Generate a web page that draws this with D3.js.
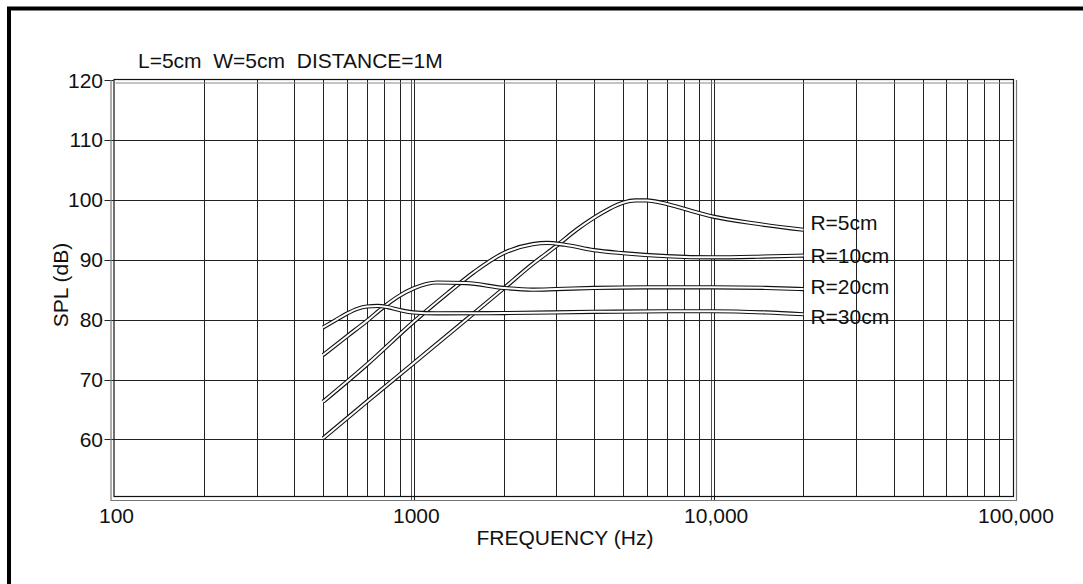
<!DOCTYPE html>
<html>
<head>
<meta charset="utf-8">
<script src="https://cdn.jsdelivr.net/npm/d3@7"></script>
<style>
  html, body { margin: 0; padding: 0; background: #fff; }
  svg { display: block; }
  text { font-family: "Liberation Sans", Arial, sans-serif; fill: #111; white-space: pre; }
</style>
</head>
<body>
<svg id="chart" width="1083" height="584"></svg>
<script>
// ---- data ----
const title = "L=5cm  W=5cm  DISTANCE=1M";
const xTickValues = [100, 1000, 10000, 100000];
const xTickLabels = ["100", "1000", "10,000", "100,000"];
const yTickValues = [60, 70, 80, 90, 100, 110, 120];
const seriesNames = ["R=5cm", "R=10cm", "R=20cm", "R=30cm"];
const labelDb = [95.0, 89.5, 84.3, 79.3];

const freqR5  = [500, 700, 1000, 1500, 2000, 2500, 3000, 3500, 4000, 4500, 5000, 5500, 6000, 7000, 8000, 10000, 14000, 20000];
const splR5   = [60.2, 66.3, 72.7, 80.0, 85.2, 89.3, 92.3, 95.0, 97.0, 98.5, 99.5, 99.9, 99.9, 99.3, 98.5, 97.2, 96.0, 95.0];
const freqR10 = [500, 700, 1000, 1300, 1600, 2000, 2500, 2800, 3200, 4000, 5000, 7000, 10000, 14000, 20000];
const splR10  = [66.3, 72.5, 79.6, 84.4, 88.0, 91.1, 92.6, 92.8, 92.5, 91.6, 91.1, 90.6, 90.4, 90.5, 90.7];
const freqR20 = [500, 600, 700, 800, 900, 1000, 1200, 1500, 2000, 2500, 3000, 4000, 6000, 10000, 15000, 20000];
const splR20  = [74.1, 77.2, 79.8, 82.2, 84.0, 85.2, 86.2, 86.1, 85.3, 85.0, 85.1, 85.3, 85.4, 85.4, 85.3, 85.1];
const freqR30 = [500, 550, 600, 650, 700, 760, 820, 900, 1000, 1200, 2000, 4000, 7000, 10000, 15000, 20000];
const splR30  = [78.7, 79.9, 81.0, 81.8, 82.2, 82.3, 82.1, 81.6, 81.2, 81.05, 81.1, 81.3, 81.4, 81.4, 81.2, 80.9];

const seriesFreq = [freqR5, freqR10, freqR20, freqR30];
const seriesSpl  = [splR5, splR10, splR20, splR30];

// ---- layout ----
const svg = d3.select("#chart");
const x = d3.scaleLog().domain([100, 100000]).range([113.5, 1013]);
const y = d3.scaleLinear().domain([50.4, 120]).range([497, 80]);
const x0 = x.range()[0], x1 = x.range()[1];
const yb = y.range()[0], yt = y.range()[1];
const FS = 21;

// outer frame
svg.append("rect").attr("x", 9).attr("y", 8.5).attr("width", 1200).attr("height", 700)
  .attr("fill", "none").attr("stroke", "#000").attr("stroke-width", 4);

// gridlines - vertical minor
const minorF = [];
[100, 1000, 10000].forEach(d => { for (let m = 2; m <= 9; m++) minorF.push(d * m); });
svg.append("g").selectAll("line").data(minorF).join("line")
  .attr("x1", d => Math.round(x(d)) + 0.5).attr("x2", d => Math.round(x(d)) + 0.5)
  .attr("y1", yt).attr("y2", yb)
  .attr("stroke", "#222").attr("stroke-width", 1);

// decade lines (double)
const decades = [1000, 10000];
const dg = svg.append("g");
decades.forEach(d => {
  const xv = Math.round(x(d));
  dg.append("line").attr("x1", xv - 1.5).attr("x2", xv - 1.5).attr("y1", yt).attr("y2", yb + 3)
    .attr("stroke", "#555").attr("stroke-width", 1);
  dg.append("line").attr("x1", xv + 1.5).attr("x2", xv + 1.5).attr("y1", yt).attr("y2", yb + 3)
    .attr("stroke", "#222").attr("stroke-width", 1);
});

// horizontal gridlines
svg.append("g").selectAll("line").data(yTickValues.filter(v => v < 120)).join("line")
  .attr("x1", x0).attr("x2", x1)
  .attr("y1", d => Math.round(y(d)) + 0.5).attr("y2", d => Math.round(y(d)) + 0.5)
  .attr("stroke", "#222").attr("stroke-width", 1);

// y tick marks
svg.append("g").selectAll("line").data(yTickValues).join("line")
  .attr("x1", x0 - 9).attr("x2", x0)
  .attr("y1", d => Math.round(y(d)) + 0.5).attr("y2", d => Math.round(y(d)) + 0.5)
  .attr("stroke", "#222").attr("stroke-width", 1);

// plot frame: gray shadow + black frame
const fr = svg.append("g");
fr.append("path")
  .attr("d", `M${x0 - 2.5},${yt} L${x0 - 2.5},${yb + 3.5} L${x1 + 3.5},${yb + 3.5} L${x1 + 3.5},${yt}`)
  .attr("fill", "none").attr("stroke", "#777").attr("stroke-width", 1.2);
fr.append("line").attr("x1", x0 + 2).attr("x2", x1).attr("y1", yt + 3).attr("y2", yt + 3)
  .attr("stroke", "#888").attr("stroke-width", 1);
fr.append("rect").attr("x", x0 + 0.5).attr("y", yt - 0.5).attr("width", x1 - x0).attr("height", yb - yt)
  .attr("fill", "none").attr("stroke", "#111").attr("stroke-width", 1.2);

// curves
const line = d3.line().curve(d3.curveMonotoneX);
const cg = svg.append("g");
seriesFreq.forEach((fs, i) => {
  const pts = fs.map((f, j) => [x(f), y(seriesSpl[i][j])]);
  const d = line(pts);
  cg.append("path").attr("d", d).attr("fill", "none").attr("stroke", "#111").attr("stroke-width", 4.2);
  cg.append("path").attr("d", d).attr("fill", "none").attr("stroke", "#fff").attr("stroke-width", 2);
});

// series labels
svg.append("g").selectAll("text").data(seriesNames).join("text")
  .attr("x", x(20000) + 7).attr("y", (d, i) => y(labelDb[i]))
  .attr("font-size", FS).text(d => d);

// y tick labels
svg.append("g").selectAll("text").data(yTickValues).join("text")
  .attr("x", 103).attr("y", d => y(d)).attr("dy", "0.36em")
  .attr("text-anchor", "end").attr("font-size", FS).text(d => d);

// x tick labels
svg.append("g").selectAll("text").data(xTickValues).join("text")
  .attr("x", d => x(d) + 3).attr("y", 523)
  .attr("text-anchor", "middle").attr("font-size", FS).text((d, i) => xTickLabels[i]);

// title & axis titles
svg.append("text").attr("x", 138).attr("y", 68).attr("font-size", FS).text(title);
svg.append("text").attr("x", 565).attr("y", 545).attr("text-anchor", "middle")
  .attr("font-size", FS).text("FREQUENCY (Hz)");
svg.append("text").attr("transform", "translate(68,285) rotate(-90)").attr("text-anchor", "middle")
  .attr("font-size", FS).text("SPL (dB)");
</script>
</body>
</html>
